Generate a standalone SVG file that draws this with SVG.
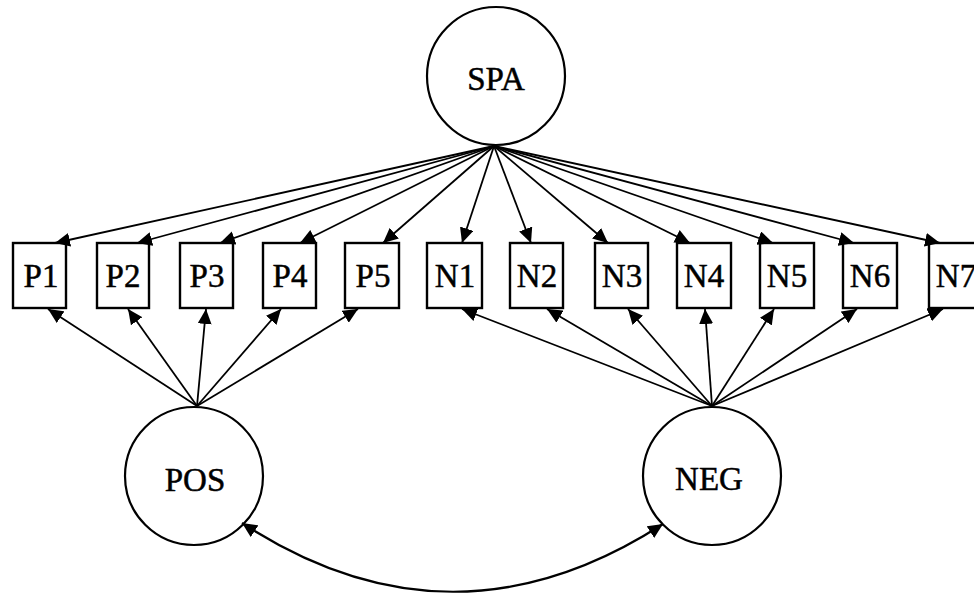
<svg xmlns="http://www.w3.org/2000/svg" width="974" height="594" viewBox="0 0 974 594">
  <style>
    .lat { fill: #fff; stroke: #000; stroke-width: 2.2; }
    .box { fill: #fff; stroke: #000; stroke-width: 2.4; }
    .lbl { font-family: "Liberation Serif", "Times New Roman", serif; font-size: 33px; fill: #000; stroke: #000; stroke-width: 0.5; text-anchor: middle; }
    .edge { fill: none; stroke: #000; stroke-width: 1.8; marker-end: url(#ah); }
    .cov { fill: none; stroke: #000; stroke-width: 2.2; marker-start: url(#ah); marker-end: url(#ah); }
  </style>
  <defs>
    <marker id="ah" markerUnits="userSpaceOnUse" markerWidth="16" markerHeight="14" refX="15" refY="7" orient="auto-start-reverse">
      <path d="M0,0 L15,7 L0,14 z" fill="#000"/>
    </marker>
  </defs>
  <rect width="974" height="594" fill="#fff"/>

  <!-- latent factors -->
  <g id="SPA"><circle class="lat" cx="496" cy="76" r="69"/><text class="lbl" x="496" y="90">SPA</text></g>
  <g id="POS"><circle class="lat" cx="194" cy="476" r="69"/><text class="lbl" x="195" y="491">POS</text></g>
  <g id="NEG"><circle class="lat" cx="712" cy="476" r="69"/><text class="lbl" x="709" y="490">NEG</text></g>

  <!-- indicator items -->
  <g id="P1"><rect class="box" x="13" y="243" width="53" height="65"/><text class="lbl" x="41" y="287">P1</text></g>
  <g id="P2"><rect class="box" x="97" y="243" width="52" height="65"/><text class="lbl" x="123" y="287">P2</text></g>
  <g id="P3"><rect class="box" x="180" y="243" width="53" height="65"/><text class="lbl" x="207" y="287">P3</text></g>
  <g id="P4"><rect class="box" x="263" y="243" width="53" height="65"/><text class="lbl" x="290" y="287">P4</text></g>
  <g id="P5"><rect class="box" x="345" y="243" width="54" height="65"/><text class="lbl" x="373" y="287">P5</text></g>
  <g id="N1"><rect class="box" x="427" y="243" width="55" height="65"/><text class="lbl" x="455" y="287">N1</text></g>
  <g id="N2"><rect class="box" x="510" y="243" width="53" height="65"/><text class="lbl" x="537" y="287">N2</text></g>
  <g id="N3"><rect class="box" x="595" y="243" width="53" height="65"/><text class="lbl" x="622" y="287">N3</text></g>
  <g id="N4"><rect class="box" x="677" y="243" width="54" height="65"/><text class="lbl" x="704" y="287">N4</text></g>
  <g id="N5"><rect class="box" x="760" y="243" width="54" height="65"/><text class="lbl" x="787" y="287">N5</text></g>
  <g id="N6"><rect class="box" x="843" y="243" width="54" height="65"/><text class="lbl" x="870" y="287">N6</text></g>
  <g id="N7"><rect class="box" x="929" y="243" width="54" height="65"/><text class="lbl" x="956" y="287">N7</text></g>

  <!-- loadings and covariance -->
  <g id="connectors">
    <path class="edge" d="M494,146 L55,243"/>
    <path class="edge" d="M494,146 L137,243"/>
    <path class="edge" d="M494,146 L220,243"/>
    <path class="edge" d="M494,146 L300,243"/>
    <path class="edge" d="M494,146 L383,243"/>
    <path class="edge" d="M494,146 L462,243"/>
    <path class="edge" d="M494,146 L531,243"/>
    <path class="edge" d="M494,146 L608,243"/>
    <path class="edge" d="M494,146 L690,243"/>
    <path class="edge" d="M494,146 L773,243"/>
    <path class="edge" d="M494,146 L854,243"/>
    <path class="edge" d="M494,146 L940,243"/>

    <path class="edge" d="M197,406 L48,309"/>
    <path class="edge" d="M197,406 L128,309"/>
    <path class="edge" d="M197,406 L206,309"/>
    <path class="edge" d="M197,406 L281,309"/>
    <path class="edge" d="M197,406 L358,309"/>

    <path class="edge" d="M712,406 L462,309"/>
    <path class="edge" d="M712,406 L547,309"/>
    <path class="edge" d="M712,406 L628,309"/>
    <path class="edge" d="M712,406 L705,309"/>
    <path class="edge" d="M712,406 L774,309"/>
    <path class="edge" d="M712,406 L857,309"/>
    <path class="edge" d="M712,406 L943,309"/>

    <path class="cov" d="M242,523 Q452,660 663,524"/>
  </g>
</svg>
